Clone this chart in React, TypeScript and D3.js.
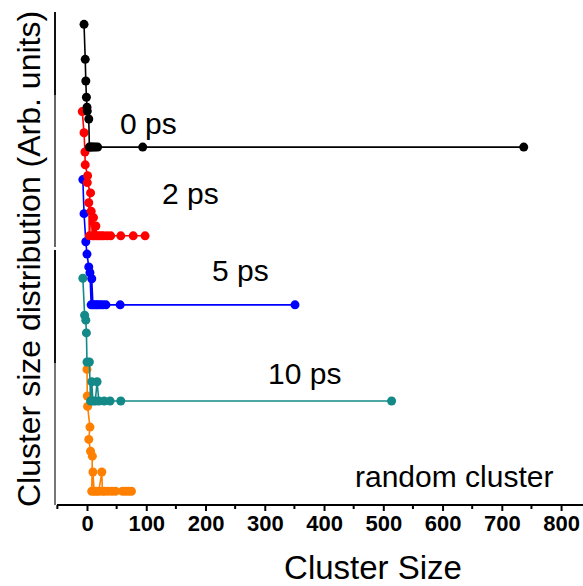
import React, { useEffect, useRef } from 'react';
import * as d3 from 'd3';

// cluster size (x) vs distribution (arb. units, 0 = series baseline)
const series0ps: [number, number][] = [
  [-5, 24.9], [-3, 17.8], [-2, 13.4], [-1, 10.1], [0, 8.1], [0.5, 7.3], [3, 5.7],
  [4, 0], [6, 0], [8, 0], [11, 0], [14, 0], [18, 0], [94, 0], [737, 0],
];
const series2ps: [number, number][] = [
  [-8, 25.2], [-5, 20.9], [-3.5, 17], [-3, 14.4], [1, 12.2], [0.5, 10.8], [6, 8.7], [3, 6.7],
  [4, 0], [7, 5], [9, 0], [11, 3.7], [12, 0], [15, 2], [16, 0], [20, 0], [24, 0], [28, 0],
  [34, 0], [40, 0], [57, 0], [78, 0], [98, 0],
];
const series5ps: [number, number][] = [
  [-7, 25.4], [-5, 18.5], [-2, 12.8], [0, 10.3], [3, 7.7], [5, 6.5], [7, 0], [8, 5.3],
  [10, 0], [13, 0], [16, 0], [19, 0], [23, 0], [27, 0], [32, 0], [56, 0], [351, 0],
];
const series10ps: [number, number][] = [
  [-7, 24.9], [-4, 17.4], [-2, 16.4], [-1, 13.8], [0, 7.9], [4, 7.9], [6, 0], [8, 3.9],
  [10, 0], [14, 0], [17, 3.9], [20, 0], [29, 0], [39, 0], [57, 0], [514, 0],
];
const seriesRandom: [number, number][] = [
  [0, 24.7], [0.5, 19.3], [1, 17.2], [5, 13], [3, 10.5], [6, 8.1], [9, 7.1], [8, 0],
  [10, 3.9], [12, 0], [16, 0], [20, 0], [25, 3.9], [26, 0], [30, 0], [36, 0], [42, 0],
  [48, 0], [60, 0], [65, 0], [70, 0], [75, 0],
];

const seriesNames = ['0 ps', '2 ps', '5 ps', '10 ps', 'random cluster'];
const seriesData = [series0ps, series2ps, series5ps, series10ps, seriesRandom];
const seriesOffsets = [72.6, 54.6, 40.6, 21.1, 2.8];
const seriesColors = ['#000000', '#ff0000', '#0000ff', '#138a88', '#ff8000'];
const labelPos: [number, number][] = [[120, 134], [162, 204], [212, 281], [268, 384], [355, 487]];

const xTicks = [0, 100, 200, 300, 400, 500, 600, 700, 800];
const xMinor = [-50, 50, 150, 250, 350, 450, 550, 650, 750];

const W = 583;
const H = 586;
const FONT = 'Liberation Sans, Arial, sans-serif';

const App = () => {
  const svgRef = useRef<SVGSVGElement>(null);

  useEffect(() => {
    const svg = d3.select(svgRef.current);
    svg.selectAll('*').remove();

    const x = d3.scaleLinear().domain([-54, 837]).range([55, 583]);
    const y = d3.scaleLinear().domain([0, 100]).range([505, 12]);

    // left axis drawn as overlapping segments like the stacked panels
    const segs: [number, number, string][] = [
      [12, 158, '#111'], [95, 247, '#666'], [250, 413, '#111'], [363, 505, '#777'],
    ];
    svg.append('g').selectAll('line').data(segs).join('line')
      .attr('x1', 55).attr('x2', 55)
      .attr('y1', d => d[0]).attr('y2', d => d[1])
      .attr('stroke', d => d[2]).attr('stroke-width', 2);

    // bottom axis
    const gx = svg.append('g').attr('transform', 'translate(0,505)');
    gx.call(d3.axisBottom(x).tickValues(xTicks).tickSize(6).tickSizeOuter(0).tickPadding(4))
      .call(g => g.select('.domain').attr('stroke', '#000').attr('stroke-width', 2)
        .attr('d', `M57,0H583`))
      .call(g => g.selectAll('.tick line').attr('stroke-width', 2))
      .call(g => g.selectAll('.tick text')
        .attr('font-family', FONT)
        .attr('font-size', 22).attr('font-weight', 'bold').attr('fill', '#000'));
    svg.append('g').attr('transform', 'translate(0,505)')
      .selectAll('line').data(xMinor).join('line')
      .attr('x1', d => x(d)).attr('x2', d => x(d))
      .attr('y1', 0).attr('y2', 4)
      .attr('stroke', '#000').attr('stroke-width', 2);

    // series, bottom first so upper ones sit on top
    const line = d3.line<[number, number]>();
    const order = [4, 3, 2, 1, 0];
    order.forEach(i => {
      const pts = seriesData[i].map(d => [x(d[0]), y(d[1] + seriesOffsets[i])] as [number, number]);
      const g = svg.append('g');
      g.append('path').attr('d', line(pts))
        .attr('fill', 'none').attr('stroke', seriesColors[i]).attr('stroke-width', 1.6);
      g.selectAll('circle').data(pts).join('circle')
        .attr('cx', d => d[0]).attr('cy', d => d[1]).attr('r', 4.5)
        .attr('fill', seriesColors[i]);
    });

    // annotations
    svg.append('g').selectAll('text').data(seriesNames).join('text')
      .attr('x', (d, i) => labelPos[i][0]).attr('y', (d, i) => labelPos[i][1])
      .attr('font-family', FONT).attr('font-size', 30)
      .attr('fill', '#000')
      .text(d => d);

    // titles
    svg.append('text')
      .attr('x', 373).attr('y', 579)
      .attr('text-anchor', 'middle')
      .attr('font-family', FONT).attr('font-size', 33)
      .text('Cluster Size');
    svg.append('text')
      .attr('transform', 'translate(40,259) rotate(-90)')
      .attr('text-anchor', 'middle')
      .attr('font-family', FONT).attr('font-size', 32)
      .text('Cluster size distribution (Arb. units)');
  }, []);

  return (
    <div style={{ position: 'absolute', left: 0, top: 0, width: W, height: H, background: '#fff' }}>
      <svg ref={svgRef} width={W} height={H} />
    </div>
  );
};

export default App;
